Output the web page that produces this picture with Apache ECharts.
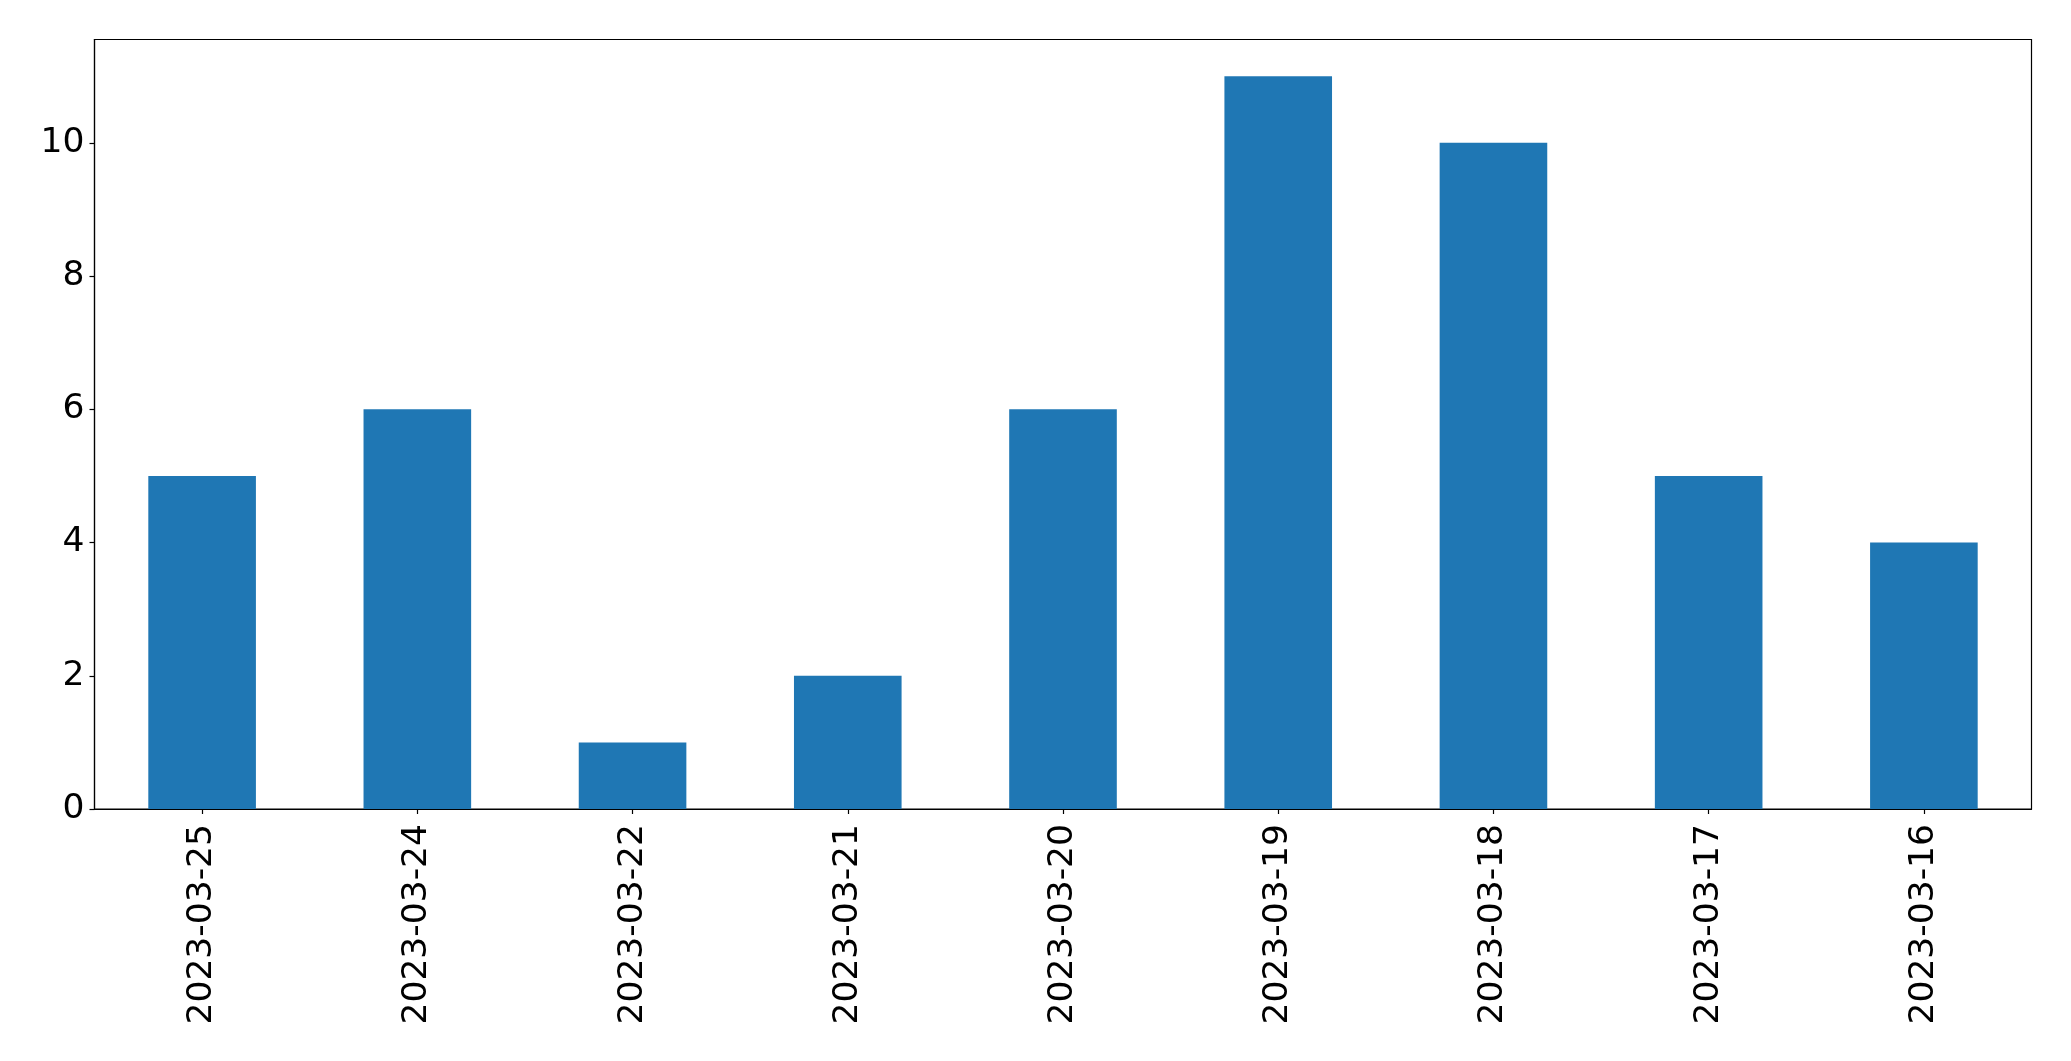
<!DOCTYPE html>
<html>
<head>
<meta charset="utf-8">
<script src="https://cdn.jsdelivr.net/npm/echarts@6/dist/echarts.min.js"></script>
<style>
html,body{margin:0;padding:0;background:#fff;}
#c{width:2071px;height:1061px;}
</style>
</head>
<body>
<div id="c"></div>
<script>
const categories = ['2023-03-25','2023-03-24','2023-03-22','2023-03-21','2023-03-20','2023-03-19','2023-03-18','2023-03-17','2023-03-16'];
const values = [5, 6, 1, 2, 6, 11, 10, 5, 4];
const yTicks = [0, 2, 4, 6, 8, 10];

const chart = echarts.init(document.getElementById('c'), null, {renderer: 'canvas'});
const font = 'DejaVu Sans';
chart.setOption({
  animation: false,
  backgroundColor: '#fff',
  grid: {
    left: 94.5, top: 39.5, right: 39.5, bottom: 252,
    show: true, borderColor: '#000', borderWidth: 1.2, backgroundColor: 'transparent'
  },
  xAxis: {
    type: 'category',
    data: categories,
    boundaryGap: true,
    axisLine: {show: true, lineStyle: {color: '#000', width: 1.2}},
    axisTick: {show: true, alignWithLabel: true, length: 5, lineStyle: {color: '#000', width: 1.2}},
    axisLabel: {rotate: 90, margin: 15, fontSize: 34.5, color: '#000', fontFamily: font, interval: 0},
    splitLine: {show: false}
  },
  yAxis: {
    type: 'value',
    min: 0, max: 11.55, interval: 2,
    axisLine: {show: true, lineStyle: {color: '#000', width: 1.2}},
    axisTick: {show: true, length: 5, customValues: yTicks, lineStyle: {color: '#000', width: 1.2}},
    axisLabel: {margin: 10, fontSize: 34.5, color: '#000', fontFamily: font, customValues: yTicks},
    splitLine: {show: false}
  },
  series: [{
    type: 'bar',
    data: values,
    barWidth: '50%',
    itemStyle: {color: '#1f77b4'}
  }]
});
</script>
</body>
</html>
